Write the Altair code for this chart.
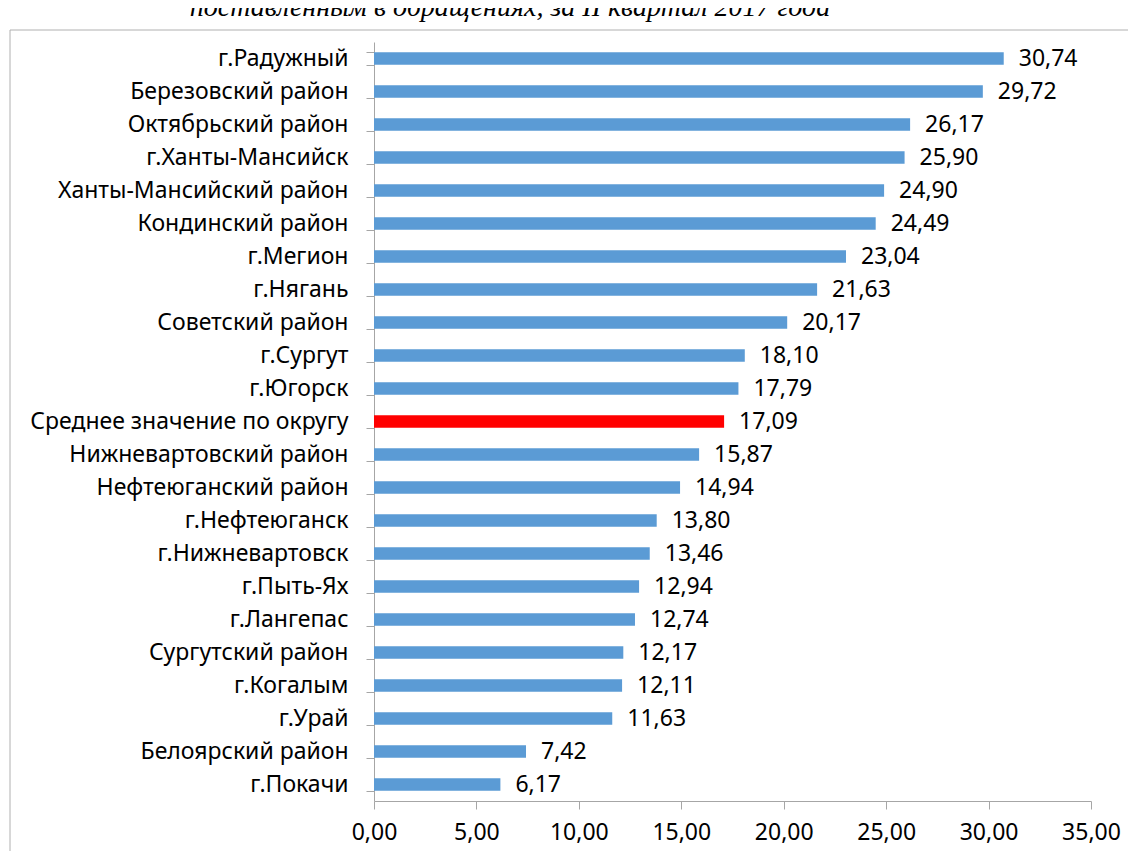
import altair as alt
import pandas as pd

categories = [
    "г.Радужный", "Березовский район", "Октябрьский район", "г.Ханты-Мансийск",
    "Ханты-Мансийский район", "Кондинский район", "г.Мегион", "г.Нягань",
    "Советский район", "г.Сургут", "г.Югорск", "Среднее значение по округу",
    "Нижневартовский район", "Нефтеюганский район", "г.Нефтеюганск",
    "г.Нижневартовск", "г.Пыть-Ях", "г.Лангепас", "Сургутский район",
    "г.Когалым", "г.Урай", "Белоярский район", "г.Покачи",
]
values = [30.74, 29.72, 26.17, 25.90, 24.90, 24.49, 23.04, 21.63, 20.17, 18.10,
          17.79, 17.09, 15.87, 14.94, 13.80, 13.46, 12.94, 12.74, 12.17, 12.11,
          11.63, 7.42, 6.17]
highlight = "Среднее значение по округу"
x_ticks = [0, 5, 10, 15, 20, 25, 30, 35]
title_text = "поставленным в обращениях, за II квартал 2017 года"

df = pd.DataFrame({"name": categories, "value": values})
df["kind"] = ["avg" if c == highlight else "normal" for c in categories]

FONT = "Noto Sans"
FS = 23
AXIS_COLOR = "#a6a6a6"

y_enc = alt.Y(
    "name:N", sort=categories, title=None,
    scale=alt.Scale(paddingInner=0.615, paddingOuter=0.3075),
    axis=alt.Axis(
        tickBand="extent", tickSize=8, tickColor=AXIS_COLOR, domainColor=AXIS_COLOR,
        labelFont=FONT, labelFontSize=FS, labelColor="black", labelPadding=18,
        labelLimit=400, grid=False,
    ),
)
x_enc = alt.X(
    "value:Q", title=None,
    scale=alt.Scale(domain=[0, 35], nice=False),
    axis=alt.Axis(
        values=x_ticks, tickSize=8, tickColor=AXIS_COLOR, domainColor=AXIS_COLOR,
        labelFont=FONT, labelFontSize=FS, labelColor="black", labelPadding=12,
        grid=False, labelExpr="replace(format(datum.value, '.2f'), '.', ',')",
        labelFlush=False,
    ),
)

bars = alt.Chart(df).mark_bar().encode(
    y=y_enc, x=x_enc,
    color=alt.Color("kind:N", scale=alt.Scale(domain=["normal", "avg"],
                                              range=["#5B9BD5", "#FF0000"]), legend=None),
)

labels = alt.Chart(df).transform_calculate(
    lbl="replace(format(datum.value, '.2f'), '.', ',')"
).mark_text(align="left", baseline="middle", dx=15, font=FONT, fontSize=FS,
            color="black").encode(
    y=alt.Y("name:N", sort=categories), x=alt.X("value:Q"), text="lbl:N",
)

frame = alt.Chart(pd.DataFrame({"a": [0]})).mark_rect(
    fill=None, stroke="#b0b0b0", strokeWidth=1
).encode(
    x=alt.value(-364), x2=alt.value(769), y=alt.value(-12), y2=alt.value(900),
)

title = alt.Chart(pd.DataFrame({"t": [title_text]})).mark_text(
    font="Liberation Serif", fontStyle="italic", fontSize=28, align="center",
    baseline="alphabetic", color="black",
).encode(
    x=alt.value(136), y=alt.value(-26), text="t:N",
)

chart = alt.layer(frame, title, bars, labels).properties(
    width=717, height=759,
    autosize=alt.AutoSizeParams(type="none"),
    padding={"left": 366, "top": 34, "right": 37, "bottom": 50},
).configure_view(stroke=None)

chart.save("out.html", embed_options={"renderer": "svg", "actions": False})
